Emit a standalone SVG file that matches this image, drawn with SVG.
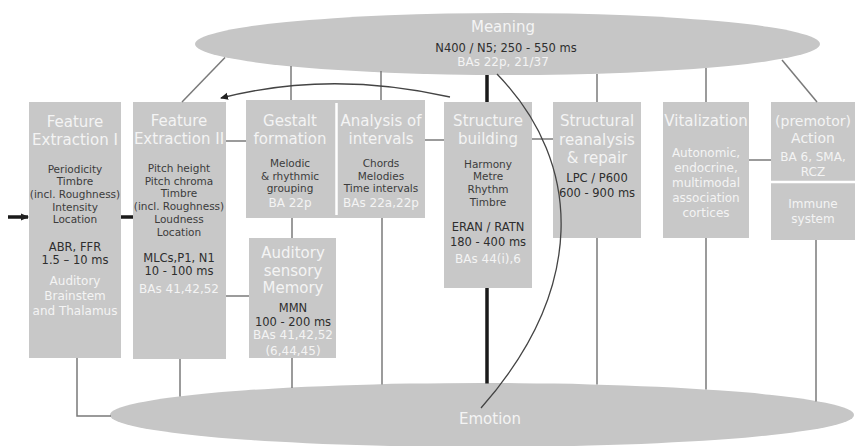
<svg xmlns="http://www.w3.org/2000/svg" width="856" height="446" viewBox="0 0 856 446">
<defs>
<marker id="ah" markerWidth="8" markerHeight="8" refX="7" refY="4" orient="auto" markerUnits="userSpaceOnUse">
<path d="M0,0.5 L8,4 L0,7.5 z" fill="#222"/>
</marker>
</defs>
<style>
text{font-family:"DejaVu Sans","Liberation Sans",sans-serif;text-anchor:middle}
.box{fill:#c8c8c8}
.ell{fill:#c6c6c6}
.t{font-size:15px;fill:#f4f4f4}
.ts{font-size:14px;fill:#f4f4f4}
.b{font-size:10.5px;fill:#3c3c3c}
.m{font-size:11.5px;fill:#2e2e2e}
.w{font-size:12px;fill:#f4f4f4}
.ln{stroke:#7a7a7a;stroke-width:1.5;fill:none}
.tk{stroke:#1a1a1a;stroke-width:3.5;fill:none}
.cv{stroke:#444;stroke-width:1.3;fill:none}
.wl{stroke:#ffffff;stroke-width:2.5}
</style>
<rect width="856" height="446" fill="#ffffff"/>

<g id="meaning">
<ellipse class="ell" cx="507.5" cy="44" rx="312.5" ry="31"/>
<text class="t" x="503" y="32">Meaning</text>
<text class="m" x="506" y="51.5">N400 / N5; 250 - 550 ms</text>
<text class="w" x="503" y="66">BAs 22p, 21/37</text>
</g>

<g id="emotion">
<ellipse class="ell" cx="482" cy="415" rx="372" ry="32"/>
<text class="t" x="490" y="424">Emotion</text>
</g>

<g id="fe1">
<rect class="box" x="29" y="102" width="92" height="256"/>
<text class="t" x="75" y="127">Feature</text>
<text class="t" x="75" y="145">Extraction I</text>
<text class="b" x="75" y="173">Periodicity</text>
<text class="b" x="75" y="185">Timbre</text>
<text class="b" x="75" y="198">(incl. Roughness)</text>
<text class="b" x="75" y="211">Intensity</text>
<text class="b" x="75" y="223">Location</text>
<text class="m" x="75" y="251">ABR, FFR</text>
<text class="m" x="75" y="264">1.5 – 10 ms</text>
<text class="w" x="75" y="284.5">Auditory</text>
<text class="w" x="75" y="299.5">Brainstem</text>
<text class="w" x="75" y="314.5">and Thalamus</text>
</g>

<g id="fe2">
<rect class="box" x="133" y="102" width="93" height="257"/>
<text class="t" x="179" y="126">Feature</text>
<text class="t" x="179" y="144">Extraction II</text>
<text class="b" x="179" y="172">Pitch height</text>
<text class="b" x="179" y="185">Pitch chroma</text>
<text class="b" x="179" y="197">Timbre</text>
<text class="b" x="179" y="210">(incl. Roughness)</text>
<text class="b" x="179" y="223">Loudness</text>
<text class="b" x="179" y="236">Location</text>
<text class="m" x="179" y="262">MLCs,P1, N1</text>
<text class="m" x="179" y="275">10 - 100 ms</text>
<text class="w" x="179" y="293">BAs 41,42,52</text>
</g>

<g id="gestalt">
<rect class="box" x="246" y="100" width="90" height="118"/>
<text class="t" x="290" y="125.5">Gestalt</text>
<text class="t" x="290" y="143.5">formation</text>
<text class="b" x="290" y="167">Melodic</text>
<text class="b" x="290" y="180">&amp; rhythmic</text>
<text class="b" x="290" y="192">grouping</text>
<text class="w" x="290" y="207">BA 22p</text>
</g>

<g id="intervals">
<rect class="box" x="336" y="100" width="89" height="118"/>
<line class="wl" x1="336.5" y1="103" x2="336.5" y2="215"/>
<text class="t" x="381" y="125.5">Analysis of</text>
<text class="t" x="381" y="143.5">intervals</text>
<text class="b" x="381" y="167">Chords</text>
<text class="b" x="381" y="180">Melodies</text>
<text class="b" x="381" y="192">Time intervals</text>
<text class="w" x="381" y="207">BAs 22a,22p</text>
</g>

<g id="asm">
<rect class="box" x="249" y="238" width="87" height="120"/>
<text class="t" x="293" y="257.5">Auditory</text>
<text class="t" x="293" y="275.5">sensory</text>
<text class="t" x="293" y="292.5">Memory</text>
<text class="m" x="293" y="312">MMN</text>
<text class="m" x="293" y="326">100 - 200 ms</text>
<text class="w" x="293" y="339">BAs 41,42,52</text>
<text class="w" x="293" y="355">(6,44,45)</text>
</g>

<g id="structure">
<rect class="box" x="444" y="102" width="88" height="186"/>
<text class="t" x="488" y="125.5">Structure</text>
<text class="t" x="488" y="143.5">building</text>
<text class="b" x="488" y="168">Harmony</text>
<text class="b" x="488" y="180">Metre</text>
<text class="b" x="488" y="193">Rhythm</text>
<text class="b" x="488" y="206">Timbre</text>
<text class="m" x="488" y="231">ERAN / RATN</text>
<text class="m" x="488" y="246">180 - 400 ms</text>
<text class="w" x="488" y="263">BAs 44(i),6</text>
</g>

<g id="reanalysis">
<rect class="box" x="553" y="102" width="88" height="136"/>
<text class="t" x="597" y="125.5">Structural</text>
<text class="t" x="597" y="144.5">reanalysis</text>
<text class="t" x="597" y="162.5">&amp; repair</text>
<text class="m" x="597" y="182">LPC / P600</text>
<text class="m" x="597" y="197">600 - 900 ms</text>
</g>

<g id="vitalization">
<rect class="box" x="663" y="102" width="86" height="136"/>
<text class="t" x="706" y="125.5">Vitalization</text>
<text class="w" x="706" y="157.3">Autonomic,</text>
<text class="w" x="706" y="172.3">endocrine,</text>
<text class="w" x="706" y="187.3">multimodal</text>
<text class="w" x="706" y="202.3">association</text>
<text class="w" x="706" y="217.3">cortices</text>
</g>

<g id="action">
<rect class="box" x="771" y="102" width="84" height="138"/>
<text class="ts" x="813" y="126">(premotor)</text>
<text class="ts" x="813" y="143">Action</text>
<text class="w" x="813" y="161.3">BA 6, SMA,</text>
<text class="w" x="813" y="176.3">RCZ</text>
<line class="wl" x1="771" y1="182" x2="855" y2="182" stroke-width="3"/>
<text class="w" x="813" y="208.3">Immune</text>
<text class="w" x="813" y="223.3">system</text>
</g>

<g id="connectors">
<line class="tk" x1="8" y1="217" x2="28" y2="217" stroke-width="2.5" marker-end="url(#ah)"/>
<line class="tk" x1="121" y1="217" x2="133" y2="217"/>
<line class="ln" x1="226" y1="141" x2="246" y2="141"/>
<line class="ln" x1="226" y1="296" x2="249" y2="296"/>
<line class="ln" x1="425" y1="140" x2="444" y2="140"/>
<line class="ln" x1="532" y1="139" x2="553" y2="139"/>
<line class="ln" x1="749" y1="160" x2="771" y2="160"/>
<line class="ln" x1="292" y1="218" x2="292" y2="238"/>
<line class="ln" x1="225" y1="57.5" x2="182" y2="102"/>
<line class="ln" x1="291" y1="66" x2="291" y2="100"/>
<line class="ln" x1="381" y1="71" x2="381" y2="100"/>
<line class="tk" x1="487" y1="75" x2="487" y2="102"/>
<line class="ln" x1="597" y1="74" x2="597" y2="102"/>
<line class="ln" x1="706" y1="68" x2="706" y2="102"/>
<line class="ln" x1="782" y1="60" x2="817" y2="102"/>
<path class="cv" d="M450,97 Q330,70 221,98" marker-end="url(#ah)"/>
<polyline class="ln" points="77,358 77,416 111,416"/>
<line class="ln" x1="180" y1="359" x2="180" y2="396.5"/>
<line class="ln" x1="292" y1="358" x2="292" y2="388"/>
<line class="ln" x1="382" y1="218" x2="382" y2="384.5"/>
<line class="tk" x1="487" y1="288" x2="487" y2="383.5"/>
<line class="ln" x1="597" y1="238" x2="597" y2="384.5"/>
<line class="ln" x1="706" y1="238" x2="706" y2="389.5"/>
<line class="ln" x1="816" y1="240" x2="816" y2="401.5"/>
<path class="cv" d="M497,74 C585,165 585,290 481,408"/>
</g>
</svg>
